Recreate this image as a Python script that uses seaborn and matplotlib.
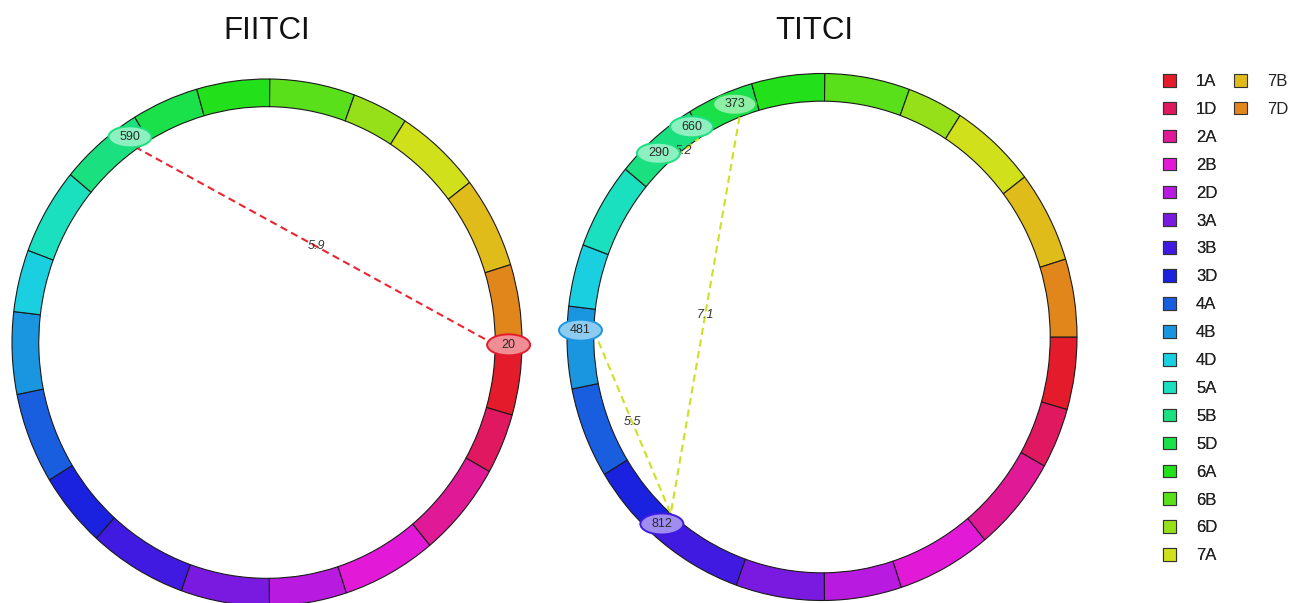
import numpy as np
import pandas as pd
import matplotlib
matplotlib.use("Agg")
import matplotlib.pyplot as plt
from matplotlib.patches import Wedge, Ellipse, Patch
from matplotlib.colors import to_rgb
import seaborn as sns

# ---- data -----------------------------------------------------------------
chromosomes = ["1A", "1D", "2A", "2B", "2D", "3A", "3B", "3D", "4A", "4B",
               "4D", "5A", "5B", "5D", "6A", "6B", "6D", "7A", "7B", "7D"]
# chromosome sizes in Mb
chrom_lengths = [594.1, 495.5, 780.8, 801.3, 651.9, 750.8, 830.8, 615.6, 744.6, 673.6,
                 509.9, 709.8, 713.1, 566.1, 618.1, 720.9, 473.6, 736.7, 750.6, 638.7]

# FIITCI interactions
fiitci_chrom1 = ["1A"]
fiitci_pos1 = [20]
fiitci_chrom2 = ["5B"]
fiitci_pos2 = [590]
fiitci_score = [5.9]

# TITCI interactions
titci_chrom1 = ["4B", "5D", "5B"]
titci_pos1 = [481, 373, 290]
titci_chrom2 = ["3B", "3B", "5B"]
titci_pos2 = [812, 812, 660]
titci_score = [5.5, 7.1, 5.2]

# ---- style ------------------------------------------------------------------
chrom_colors = ["#e31b2b", "#e0185f", "#e01a96", "#e21ad8", "#b81ae0", "#7a1ae0",
                "#401ae0", "#1a22e0", "#1a5ee0", "#1a96e0", "#1ad0e0", "#1ae0c0",
                "#1ae080", "#1ae04a", "#22e01a", "#5ae01a", "#96e01a", "#d0e01a",
                "#e0bc1a", "#e0861a"]

sns.set_theme(style="white")
plt.rcParams["font.family"] = ["Liberation Sans", "DejaVu Sans"]

W, H = 1291, 603
fig = plt.figure(figsize=(W / 100, H / 100), dpi=100)

RX, RY = 255.0, 263.5          # pixel size of one data unit on each axis
R_OUT, R_W = 1.0, 0.105
R_IN = R_OUT - R_W
R_MID = R_OUT - R_W / 2

total = float(np.sum(chrom_lengths))
starts = np.concatenate([[0.0], np.cumsum(chrom_lengths)[:-1]])
chrom_start = dict(zip(chromosomes, starts))
chrom_color = dict(zip(chromosomes, chrom_colors))


def lighten(color, amount=0.5):
    rgb = np.array(to_rgb(color))
    return tuple(rgb + (1 - rgb) * amount)


def angle_of(chrom, pos):
    """Clockwise angle (deg) from east for a genomic position."""
    return (chrom_start[chrom] + pos) / total * 360.0


def xy(angle, r):
    a = np.deg2rad(angle)
    return r * np.cos(a), -r * np.sin(a)


def make_axes(px_left, px_right, cx, cy):
    ax = fig.add_axes([px_left / W, 0, (px_right - px_left) / W, 1])
    ax.set_xlim((px_left - cx) / RX, (px_right - cx) / RX)
    ax.set_ylim((cy - H) / RY, cy / RY)
    ax.set_aspect("auto")
    ax.axis("off")
    return ax


def draw_panel(ax, title, tx, c1, p1, c2, p2, score, link_color):
    # chromosome ring
    for name, start, length in zip(chromosomes, starts, chrom_lengths):
        a0 = start / total * 360.0
        a1 = (start + length) / total * 360.0
        ax.add_patch(Wedge((0, 0), R_OUT, -a1, -a0, width=R_W,
                           facecolor=chrom_color[name], edgecolor="#1a1a1a",
                           linewidth=0.8, zorder=2))

    # links between loci
    rows = []
    for i, (ca, pa, cb, pb) in enumerate(zip(c1, p1, c2, p2)):
        for c, p in ((ca, pa), (cb, pb)):
            x, y = xy(angle_of(c, p), R_IN)
            rows.append({"link": i, "x": x, "y": y})
    links = pd.DataFrame(rows)
    sns.lineplot(data=links, x="x", y="y", units="link", estimator=None,
                 sort=False, color=link_color, linestyle=(0, (3.5, 2.2)),
                 linewidth=1.5, ax=ax, legend=False, zorder=3)
    ax.set_xlabel("")
    ax.set_ylabel("")

    for i, s in enumerate(score):
        seg = links[links["link"] == i]
        ax.text(seg["x"].mean(), seg["y"].mean(), f"{s}", fontsize=9,
                style="italic", color="#333333", ha="center", va="center",
                zorder=4)

    # locus markers
    seen = set()
    for c, p in list(zip(c1, p1)) + list(zip(c2, p2)):
        if (c, p) in seen:
            continue
        seen.add((c, p))
        x, y = xy(angle_of(c, p), R_MID)
        col = chrom_color[c]
        ax.add_patch(Ellipse((x, y), 43 / RX, 21 / RY, facecolor=lighten(col, 0.5),
                             edgecolor=col, linewidth=1.4, zorder=5))
        ax.text(x, y, f"{p}", fontsize=9, color="#2a2a2a",
                ha="center", va="center", zorder=7)

    fig.text(tx / W, 1 - 31 / H, title, fontsize=22.5, color="#111111",
             ha="center", va="center")


ax_left = make_axes(0, 545, 267, 342.5)
ax_right = make_axes(545, 1140, 822, 337)

draw_panel(ax_left, "FIITCI", 267, fiitci_chrom1, fiitci_pos1, fiitci_chrom2,
           fiitci_pos2, fiitci_score, "#e82630")
draw_panel(ax_right, "TITCI", 814, titci_chrom1, titci_pos1, titci_chrom2,
           titci_pos2, titci_score, "#cde023")

# chromosome legend: 18 entries in the first column, the rest in a second
handles = [Patch(facecolor=chrom_color[c], edgecolor="#333333", linewidth=0.8, label=c)
           for c in chromosomes]
leg_kw = dict(loc="upper left", frameon=False, borderpad=0, borderaxespad=0,
              handlelength=0.78, handleheight=0.78, handletextpad=1.2,
              labelspacing=0.77, fontsize=12, labelcolor="#222222")
leg1 = fig.legend(handles=handles[:18], bbox_to_anchor=(1163 / W, 1 - 74 / H), **leg_kw)
fig.add_artist(leg1)
fig.legend(handles=handles[18:], bbox_to_anchor=(1234 / W, 1 - 74 / H), **leg_kw)

fig.savefig("out.png", dpi=100)
